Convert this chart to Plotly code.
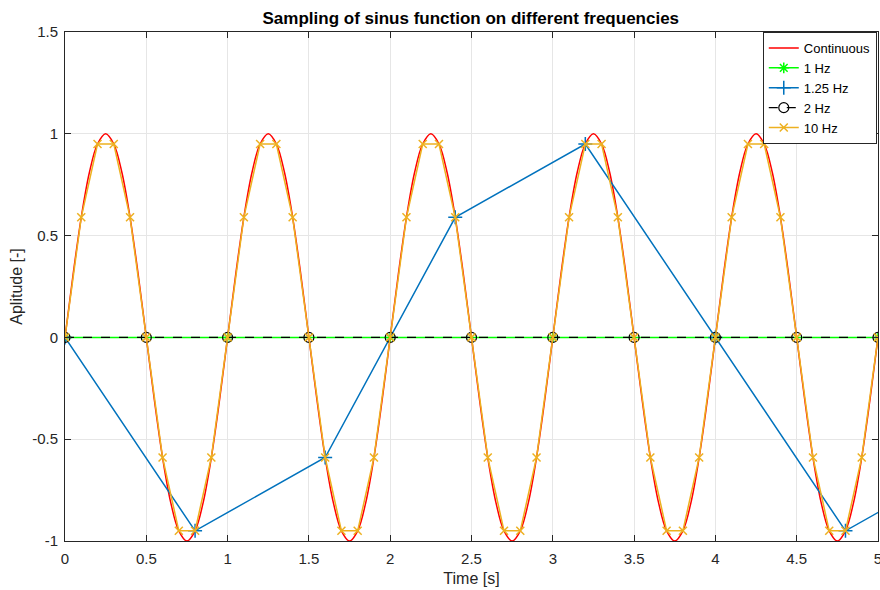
import plotly.graph_objects as go

# One period (1 s) of the continuous signal, sampled every 0.05 s
period_cont = [0, 0.31, 0.59, 0.81, 0.95, 1.0, 0.95, 0.81, 0.59, 0.31,
               0, -0.31, -0.59, -0.81, -0.95, -1.0, -0.95, -0.81, -0.59, -0.31]
t_cont = [round(0.05 * k, 3) for k in range(101)]
y_cont = period_cont * 5 + [0]

# 10 Hz samples, one period
period_10 = [0, 0.59, 0.95, 0.95, 0.59, 0, -0.59, -0.95, -0.95, -0.59]
t_10 = [round(0.1 * k, 2) for k in range(51)]
y_10 = period_10 * 5 + [0]

# 1.25 Hz samples
t_125 = [0, 0.8, 1.6, 2.4, 3.2, 4.0, 4.8, 5.6]
y_125 = [0, -0.95, -0.59, 0.59, 0.95, 0, -0.95, -0.59]

# 2 Hz samples
t_2 = [0, 0.5, 1, 1.5, 2, 2.5, 3, 3.5, 4, 4.5, 5]
y_2 = [0] * 11

# 1 Hz samples
t_1 = [0, 1, 2, 3, 4, 5]
y_1 = [0] * 6

x_ticks = [0, 0.5, 1, 1.5, 2, 2.5, 3, 3.5, 4, 4.5, 5]
x_labels = ["0", "0.5", "1", "1.5", "2", "2.5", "3", "3.5", "4", "4.5", "5"]
y_ticks = [-1, -0.5, 0, 0.5, 1, 1.5]
y_labels = ["-1", "-0.5", "0", "0.5", "1", "1.5"]

FONT = "Liberation Sans, Arial, sans-serif"
AX = "#262626"

fig = go.Figure()
fig.add_trace(go.Scatter(x=t_cont, y=y_cont, mode="lines", name="Continuous",
                         line=dict(color="#FF0000", width=1.5, shape="spline")))
fig.add_trace(go.Scatter(x=t_1, y=y_1, mode="lines+markers", name="1 Hz",
                         line=dict(color="#00FF00", width=1.5),
                         marker=dict(symbol="asterisk-open", size=9,
                                     line=dict(color="#00FF00", width=1.5))))
fig.add_trace(go.Scatter(x=t_125, y=y_125, mode="lines+markers", name="1.25 Hz",
                         line=dict(color="#0072BD", width=1.5),
                         marker=dict(symbol="cross-thin-open", size=10,
                                     line=dict(color="#0072BD", width=1.5))))
fig.add_trace(go.Scatter(x=t_2, y=y_2, mode="lines+markers", name="2 Hz",
                         line=dict(color="#000000", width=1.3, dash="dash"),
                         marker=dict(symbol="circle-open", size=10,
                                     line=dict(color="#000000", width=1.2))))
fig.add_trace(go.Scatter(x=t_10, y=y_10, mode="lines+markers", name="10 Hz",
                         line=dict(color="#EDB120", width=1.5),
                         marker=dict(symbol="x-thin-open", size=8,
                                     line=dict(color="#EDB120", width=1.5))))

axis_common = dict(
    showline=True, linecolor=AX, linewidth=1, mirror="ticks",
    ticks="inside", ticklen=6, tickcolor=AX, tickwidth=1,
    showgrid=True, gridcolor="#E6E6E6", gridwidth=1,
    zeroline=False, automargin=False,
    tickfont=dict(family=FONT, size=15, color=AX),
)

fig.update_layout(
    width=880, height=590,
    margin=dict(l=65, r=2, t=32, b=49),
    paper_bgcolor="white", plot_bgcolor="white",
    title=dict(text="<b>Sampling of sinus function on different frequencies</b>",
               x=0.535, xanchor="center", y=0.97, yanchor="middle",
               font=dict(family=FONT, size=17, color="#000000")),
    xaxis=dict(range=[0, 5], tickvals=x_ticks, ticktext=x_labels,
               ticklabeloverflow="allow", ticklabelstandoff=4,
               title=dict(text="Time [s]", standoff=6,
                          font=dict(family=FONT, size=16, color=AX)),
               **axis_common),
    yaxis=dict(range=[-1, 1.5], tickvals=y_ticks, ticktext=y_labels,
               ticklabelstandoff=3,
               title=dict(text="Aplitude [-]", standoff=5,
                          font=dict(family=FONT, size=16, color=AX)),
               **axis_common),
    legend=dict(x=0.9985, y=1, xanchor="right", yanchor="top",
                bgcolor="white", bordercolor=AX, borderwidth=1,
                font=dict(family=FONT, size=13, color="#000000"),
                tracegroupgap=0, itemwidth=30),
    showlegend=True,
)

fig.write_html("out.html")
